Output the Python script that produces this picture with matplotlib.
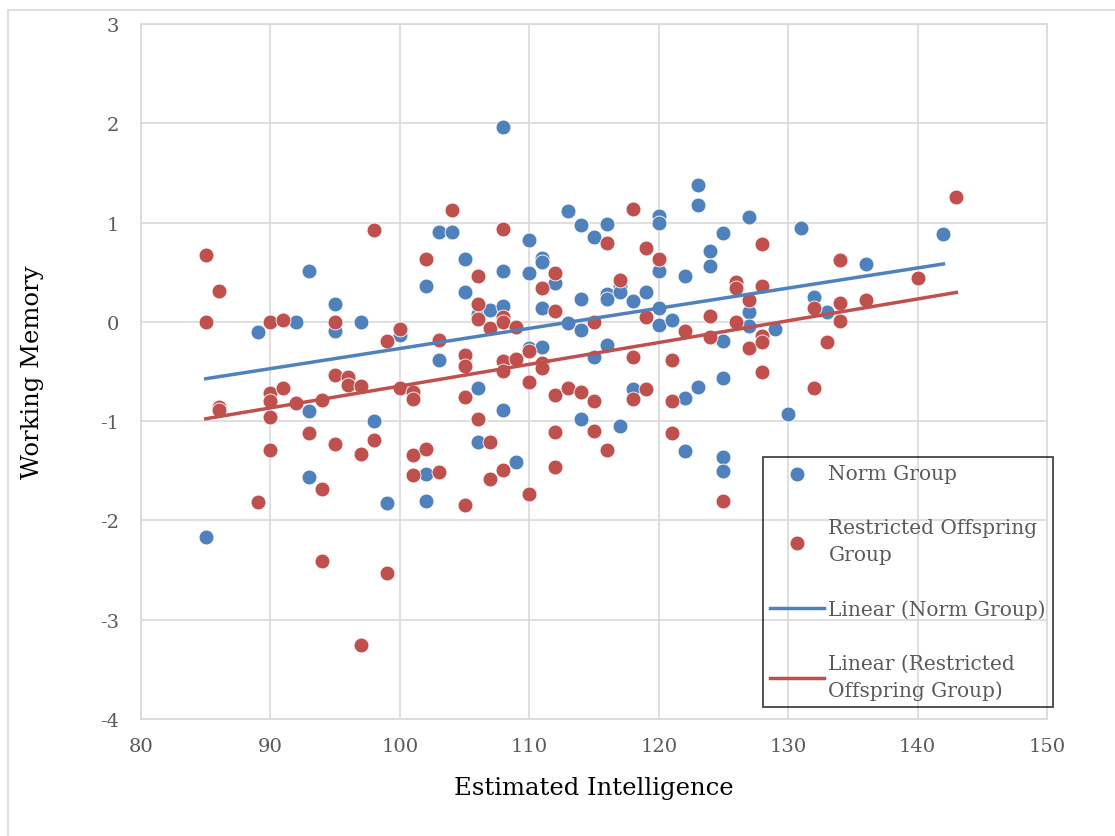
import numpy as np
import matplotlib
matplotlib.use("Agg")
import matplotlib.pyplot as plt
from matplotlib.patches import Rectangle

# Norm Group: (estimated intelligence, working memory)
norm_iq = [85, 89, 92, 93, 93, 93, 95, 95, 97, 98, 99, 100, 102, 102, 102,
           103, 103, 104, 105, 105, 106, 106, 106, 107, 108, 108, 108, 108,
           109, 110, 110, 110, 111, 111, 111, 111, 112, 113, 113, 114, 114,
           114, 114, 115, 115, 116, 116, 116, 116, 117, 117, 117, 118, 118,
           119, 120, 120, 120, 120, 120, 121, 122, 122, 122, 123, 123, 123,
           124, 124, 125, 125, 125, 125, 125, 127, 127, 127, 129, 130, 131,
           132, 133, 136, 142]
norm_wm = [-2.17, -0.10, 0.00, 0.51, -0.90, -1.56, 0.18, -0.09, 0.00, -1.00,
           -1.82, -0.13, 0.36, -1.53, -1.80, 0.91, -0.38, 0.91, 0.63, 0.30,
           0.08, -0.67, -1.21, 0.12, 1.96, 0.51, 0.16, -0.89, -1.41, 0.83,
           0.49, -0.26, 0.64, 0.60, 0.14, -0.25, 0.39, 1.12, -0.01, 0.98,
           0.23, -0.08, -0.98, 0.86, -0.35, 0.99, 0.28, 0.23, -0.23, 0.36,
           0.30, -1.05, 0.21, -0.68, 0.30, 1.07, 1.00, 0.51, 0.14, -0.03,
           0.02, 0.46, -0.77, -1.30, 1.38, 1.18, -0.66, 0.71, 0.56, 0.90,
           -0.19, -0.57, -1.36, -1.50, 1.06, 0.10, -0.04, -0.07, -0.93, 0.95,
           0.25, 0.10, 0.58, 0.89]

# Restricted Offspring Group
restr_iq = [85, 85, 86, 86, 86, 89, 90, 90, 90, 90, 90, 91, 91, 92, 93, 94,
            94, 94, 95, 95, 95, 96, 96, 97, 97, 97, 98, 98, 99, 99, 100, 100,
            101, 101, 101, 101, 102, 102, 103, 103, 104, 105, 105, 105, 105,
            106, 106, 106, 106, 107, 107, 107, 108, 108, 108, 108, 108, 108,
            109, 109, 110, 110, 110, 111, 111, 111, 112, 112, 112, 112, 112,
            113, 114, 115, 115, 115, 116, 116, 117, 118, 118, 118, 119, 119,
            119, 120, 121, 121, 121, 122, 124, 124, 125, 126, 126, 126, 127,
            127, 128, 128, 128, 128, 128, 132, 132, 133, 134, 134, 134, 136,
            140, 143]
restr_wm = [0.67, 0.00, 0.31, -0.86, -0.89, -1.81, 0.00, -0.72, -0.80, -0.96,
            -1.29, 0.02, -0.67, -0.82, -1.12, -0.79, -1.68, -2.41, 0.00, -0.53,
            -1.23, -0.55, -0.64, -0.65, -1.33, -3.25, 0.93, -1.19, -0.19, -2.53,
            -0.07, -0.67, -0.71, -0.78, -1.34, -1.54, 0.63, -1.28, -0.18, -1.51,
            1.13, -0.33, -0.44, -0.76, -1.84, 0.46, 0.18, 0.03, -0.98, -0.06,
            -1.21, -1.58, 0.94, 0.05, 0.00, -0.39, -0.49, -1.49, -0.05, -0.37,
            -0.29, -0.61, -1.73, 0.34, -0.41, -0.46, 0.49, 0.11, -0.74, -1.11,
            -1.46, -0.67, -0.71, 0.00, -0.80, -1.10, 0.80, -1.29, 0.42, 1.14,
            -0.35, -0.78, 0.74, 0.05, -0.68, 0.63, -0.38, -0.80, -1.12, -0.09,
            0.06, -0.15, -1.80, 0.40, 0.34, 0.00, 0.22, -0.26, 0.78, 0.36,
            -0.14, -0.20, -0.50, 0.14, -0.67, -0.20, 0.62, 0.19, 0.01, 0.22,
            0.44, 1.26]

blue = '#4F81BD'
red = '#C0504D'
grid_c = '#D9D9D9'
text_c = '#595959'

plt.rcParams['font.family'] = ['DejaVu Serif']
plt.rcParams['axes.unicode_minus'] = False

fig = plt.figure(figsize=(11.15, 8.37), dpi=100)
ax = fig.add_axes([0.1265, 0.1398, 0.8125, 0.8302])

# outer chart border
fig.patches.append(Rectangle((8 / 1115, -0.01), 1.02, 1 - 11 / 837 + 0.01,
                             transform=fig.transFigure, fill=False,
                             edgecolor=grid_c, linewidth=1.2))

ax.scatter(norm_iq, norm_wm, s=115, color=blue, edgecolors='white',
           linewidths=0.6, label='Norm Group', zorder=3)
ax.scatter(restr_iq, restr_wm, s=115, color=red, edgecolors='white',
           linewidths=0.6, label='Restricted Offspring\nGroup', zorder=3)

# linear trend lines
for xs, ys, c, lab in [(norm_iq, norm_wm, blue, 'Linear (Norm Group)'),
                       (restr_iq, restr_wm, red, 'Linear (Restricted\nOffspring Group)')]:
    m, b = np.polyfit(xs, ys, 1)
    xx = np.array([min(xs), max(xs)])
    ax.plot(xx, m * xx + b, color=c, linewidth=2.5, label=lab, zorder=4)

ax.set_xlim(80, 150)
ax.set_ylim(-4, 3)
ax.set_xticks(np.arange(80, 151, 10))
ax.set_yticks(np.arange(-4, 4, 1))
ax.grid(True, color=grid_c, linewidth=1.2)
ax.set_axisbelow(True)
for sp in ax.spines.values():
    sp.set_color(grid_c)
    sp.set_linewidth(1.2)
ax.tick_params(length=0, labelsize=14, colors=text_c)
ax.tick_params(axis='x', pad=13)
ax.tick_params(axis='y', pad=16)

ax.set_xlabel('Estimated Intelligence', fontsize=17.5, color='black', labelpad=15)
ax.set_ylabel('Working Memory', fontsize=17.5, color='black', labelpad=40)

leg = ax.legend(loc='upper left', bbox_to_anchor=(763 / 1115, 1 - 458 / 837),
                bbox_transform=fig.transFigure, frameon=True, fancybox=False,
                fontsize=14.5, labelspacing=1.75, handlelength=2.7,
                borderpad=0.35, handletextpad=0.2, borderaxespad=0)
leg.get_frame().set_edgecolor('black')
leg.get_frame().set_facecolor('none')
leg.get_frame().set_linewidth(1.2)
for t in leg.get_texts():
    t.set_color(text_c)
    t.set_linespacing(1.5)

fig.savefig('out.png', dpi=100)
